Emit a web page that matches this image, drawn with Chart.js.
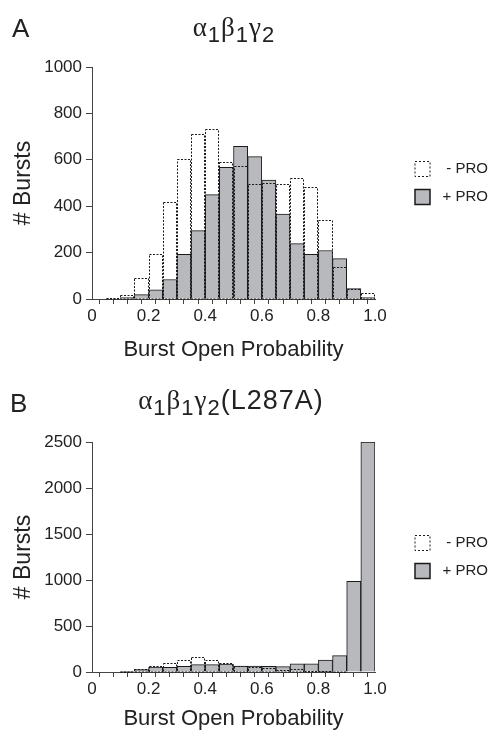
<!DOCTYPE html>
<html>
<head>
<meta charset="utf-8">
<title>Burst Open Probability</title>
<script src="https://cdn.jsdelivr.net/npm/chart.js@4.4.1/dist/chart.umd.min.js"></script>
<style>
body { margin:0; background:#fff; width:491px; height:732px; position:relative; overflow:hidden; font-family:"Liberation Sans", Arial, sans-serif; color:#222; }
canvas { position:absolute; left:0; }
#chartA { top:0; }
#chartB { top:375px; }
.panel { position:absolute; font-size:26px; line-height:26px; }
.title { position:absolute; left:0; font-size:27px; line-height:27px; text-align:center; letter-spacing:1px; white-space:nowrap; }
.title .g { font-family:"Liberation Serif", "Times New Roman", serif; }
.title sub { font-size:22px; vertical-align:-6px; line-height:0; }
</style>
</head>
<body>
<canvas id="chartA" width="491" height="375"></canvas>
<canvas id="chartB" width="491" height="357"></canvas>
<div class="panel" style="left:12px;top:15px">A</div>
<div class="title" style="width:468px;top:14px"><span class="g">α</span><sub>1</sub><span class="g">β</span><sub>1</sub><span class="g">γ</span><sub>2</sub></div>
<div class="panel" style="left:10px;top:390px">B</div>
<div class="title" style="width:462px;top:387px"><span class="g">α</span><sub>1</sub><span class="g">β</span><sub>1</sub><span class="g">γ</span><sub>2</sub>(L287A)</div>
<script>
var binCenters = [0.025, 0.075, 0.125, 0.175, 0.225, 0.275, 0.325, 0.375, 0.425, 0.475,
                  0.525, 0.575, 0.625, 0.675, 0.725, 0.775, 0.825, 0.875, 0.925, 0.975];

var minusProA = [0, 3, 16, 92, 192, 419, 604, 713, 732, 592, 572, 496, 499, 496, 522, 484, 339, 140, 42, 27];
var plusProA  = [0, 0, 6, 19, 40, 84, 193, 295, 450, 568, 658, 614, 513, 366, 239, 193, 209, 174, 45, 6];

var minusProB = [0, 0, 5, 29, 62, 101, 134, 167, 134, 94, 69, 51, 40, 22, 29, 14, 7, 4, 0, 0];
var plusProB  = [0, 0, 7, 25, 54, 51, 62, 80, 80, 87, 65, 65, 62, 58, 90, 90, 130, 178, 985, 2500];

var xTickLabels = ['0', '0.2', '0.4', '0.6', '0.8', '1.0'];
var legendLabels = ['- PRO', '+ PRO'];

Chart.defaults.font.family = '"Liberation Sans", Arial, sans-serif';
Chart.defaults.color = '#222';

var dashedBars = {
    id: 'dashedBars',
    afterDatasetsDraw: function(chart){
        var ctx = chart.ctx;
        chart.data.datasets.forEach(function(ds, i){
            if(!ds.dashed) return;
            var meta = chart.getDatasetMeta(i);
            ctx.save();
            ctx.setLineDash([2, 1.5]);
            ctx.lineWidth = 1;
            ctx.strokeStyle = '#1a1a1a';
            meta.data.forEach(function(bar, j){
                if(!ds.data[j].y) return;
                var p = bar.getProps(['x', 'y', 'base', 'width'], true);
                var left = Math.round(p.x - p.width / 2) + 0.5;
                var right = Math.round(p.x + p.width / 2) - 0.5;
                var top = Math.round(p.y) + 0.5;
                ctx.strokeRect(left, top, right - left, Math.round(p.base) - top);
            });
            ctx.restore();
        });
    }
};

function points(values){
    return binCenters.map(function(x, i){
        return {x: x, y: values[i]};
    });
}

function legendItems(chart){
    return chart.data.datasets.map(function(ds, i){
        return {
            text: ds.label,
            fillStyle: ds.dashed ? '#fff' : '#b8b9bc',
            strokeStyle: '#1a1a1a',
            lineWidth: ds.dashed ? 1 : 1.5,
            lineDash: ds.dashed ? [2, 2] : [],
            fontColor: '#222',
            hidden: false,
            datasetIndex: i
        };
    });
}

function buildChart(id, minusPro, plusPro, yMax, yStep, xHeight, titlePad){
    new Chart(document.getElementById(id), {
        type: 'bar',
        data: {
            datasets: [{
                label: legendLabels[0],
                data: points(minusPro),
                dashed: true,
                backgroundColor: 'rgba(0,0,0,0)',
                borderWidth: 0,
                grouped: false,
                barPercentage: 1,
                categoryPercentage: 1
            }, {
                label: legendLabels[1],
                data: points(plusPro),
                backgroundColor: '#b8b9bc',
                borderColor: '#1a1a1a',
                borderWidth: 1,
                grouped: false,
                barPercentage: 1,
                categoryPercentage: 1
            }]
        },
        options: {
            responsive: false,
            animation: false,
            events: [],
            layout: {padding: {top: 67, right: 3, bottom: 0, left: 0}},
            plugins: {
                tooltip: {enabled: false},
                legend: {
                    position: 'right',
                    align: 'center',
                    fullSize: false,
                    maxWidth: 86,
                    labels: {
                        font: {size: 15},
                        boxWidth: 15,
                        boxHeight: 15,
                        padding: 13,
                        textAlign: 'right',
                        generateLabels: legendItems
                    }
                }
            },
            scales: {
                x: {
                    type: 'linear',
                    min: 0,
                    max: 1,
                    offset: false,
                    grid: {display: true, drawOnChartArea: false, tickLength: 5, color: '#444'},
                    border: {display: true, color: '#444'},
                    ticks: {
                        stepSize: 0.05,
                        autoSkip: false,
                        maxRotation: 0,
                        padding: 2,
                        font: {size: 17},
                        callback: function(v){
                            var k = Math.round(v * 20);
                            return k % 4 === 0 ? xTickLabels[k / 4] : '';
                        }
                    },
                    title: {display: true, text: 'Burst Open Probability', font: {size: 22}, padding: {top: 0, bottom: titlePad}},
                    afterFit: function(s){ s.height = xHeight; }
                },
                y: {
                    min: 0,
                    max: yMax,
                    grid: {display: true, drawOnChartArea: false, tickLength: 6, color: '#444'},
                    border: {display: true, color: '#444'},
                    ticks: {
                        stepSize: yStep,
                        padding: 4,
                        font: {size: 17},
                        callback: function(v){ return String(v); }
                    },
                    title: {display: true, text: '# Bursts', font: {size: 23}, padding: {top: 10, bottom: 0}},
                    afterFit: function(s){ s.width = 92; }
                },
                gap: {
                    type: 'linear',
                    position: 'right',
                    grid: {display: false},
                    border: {display: false},
                    ticks: {display: false},
                    afterFit: function(s){ s.width = 27; }
                }
            }
        },
        plugins: [dashedBars]
    });
}

buildChart('chartA', minusProA, plusProA, 1000, 200, 76, 12);
buildChart('chartB', minusProB, plusProB, 2500, 500, 60, 0);
</script>
</body>
</html>
